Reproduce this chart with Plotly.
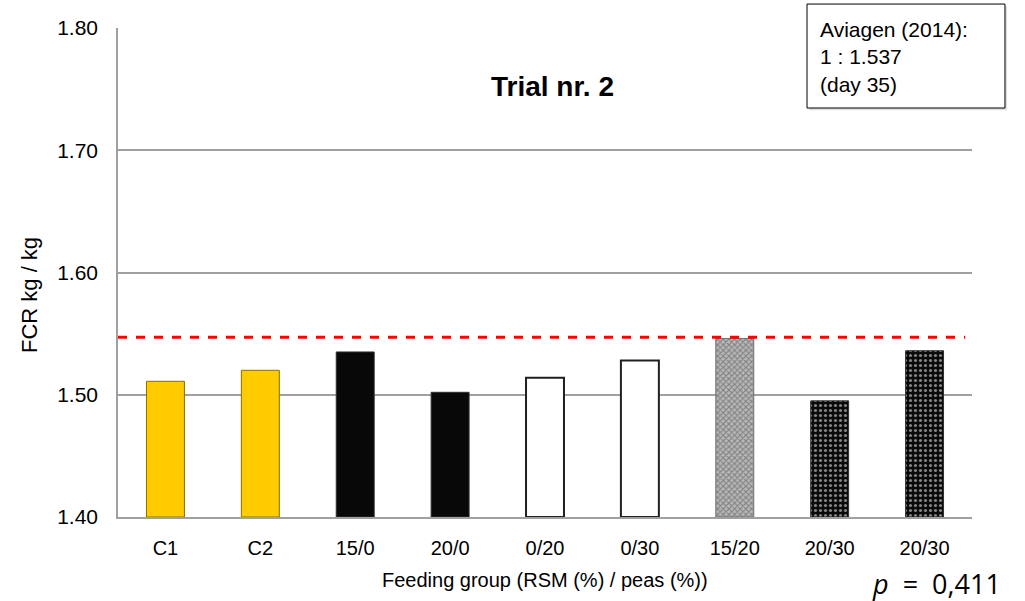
import plotly.graph_objects as go

groups = ["C1", "C2", "15/0", "20/0", "0/20", "0/30", "15/20", "20/30", "20/30"]
fcr = [1.511, 1.520, 1.535, 1.502, 1.514, 1.528, 1.546, 1.495, 1.536]
reference_fcr = 1.547
y_ticks = [1.40, 1.50, 1.60, 1.70, 1.80]

positions = list(range(len(groups)))

fills = ["#FFCC00", "#FFCC00", "#080808", "#080808", "#FFFFFF", "#FFFFFF",
         "#B8B8B8", "#0A0A0A", "#0A0A0A"]
borders = ["#8a6d00", "#8a6d00", "#303030", "#303030", "#202020", "#202020",
           "#707070", "#303030", "#303030"]
border_w = [1, 1, 1, 1, 2, 2, 1, 1, 1]
pat_shapes = ["", "", "", "", "", "", "x", ".", "."]
pat_fg = ["#000000", "#000000", "#000000", "#000000", "#000000", "#000000",
          "#303030", "#A8A8A8", "#A8A8A8"]
pat_size = [6, 6, 6, 6, 6, 6, 4, 5, 5]
pat_sol = [0.3, 0.3, 0.3, 0.3, 0.3, 0.3, 0.45, 0.3, 0.3]

fig = go.Figure()
fig.add_trace(go.Bar(
    x=positions, y=[v - 1.40 for v in fcr], base=1.40,
    width=0.4,
    marker=dict(
        color=fills,
        line=dict(color=borders, width=border_w),
        pattern=dict(shape=pat_shapes, fgcolor=pat_fg, size=pat_size,
                     solidity=pat_sol, fillmode="overlay"),
    ),
    showlegend=False,
    hoverinfo="skip",
))

fig.add_shape(type="line", xref="paper", yref="y", x0=0, x1=0.992,
              y0=reference_fcr, y1=reference_fcr,
              line=dict(color="#FF0000", width=3, dash="dash"))

# reference box (shadow + frame)
fig.add_shape(type="rect", xref="paper", yref="paper",
              x0=0.8093, x1=1.0411, y0=0.832, y1=1.045,
              fillcolor="#E0E0E0", line=dict(width=0), layer="above")
fig.add_shape(type="rect", xref="paper", yref="paper",
              x0=0.8068, x1=1.0386, y0=0.8364, y1=1.049,
              fillcolor="#FFFFFF", line=dict(color="#000000", width=1), layer="above")

fig.add_annotation(xref="paper", yref="paper", x=0.8197, y=1.024, xanchor="left", yanchor="top",
                   text="Aviagen (2014):<br>1 : 1.537<br>(day 35)", align="left",
                   showarrow=False,
                   font=dict(family="Liberation Sans, Arial", size=21, color="#000"))

fig.add_annotation(xref="paper", yref="paper", x=0.509, y=0.881, xanchor="center", yanchor="middle",
                   text="<b>Trial nr. 2</b>", showarrow=False,
                   font=dict(family="Liberation Sans, Arial", size=28, color="#000"))

fig.add_annotation(xref="paper", yref="paper", x=0.959, y=-0.135, xanchor="center", yanchor="middle",
                   text="<i>p</i>&nbsp; =&nbsp; 0,411", showarrow=False,
                   font=dict(family="Open Sans, Noto Sans", size=27, color="#000"))

fig.add_annotation(xref="paper", yref="paper", x=0.5, y=-0.129, xanchor="center", yanchor="middle",
                   text="Feeding group (RSM (%) / peas (%))", showarrow=False,
                   font=dict(family="Liberation Sans, Arial", size=20, color="#000"))

fig.add_annotation(xref="paper", yref="paper", x=-0.103, y=0.454, xanchor="center", yanchor="middle",
                   text="FCR kg / kg", textangle=-90, showarrow=False,
                   font=dict(family="Liberation Sans, Arial", size=22, color="#000"))

fig.update_layout(
    width=1025, height=601,
    margin=dict(l=118, r=53, t=28, b=84),
    paper_bgcolor="#FFFFFF", plot_bgcolor="#FFFFFF",
    font=dict(family="Liberation Sans, Arial", color="#000"),
    xaxis=dict(
        tickmode="array", tickvals=positions, ticktext=groups,
        range=[-0.5, len(groups) - 0.5],
        showgrid=False, showline=True, linecolor="#A0A0A0", linewidth=1.5,
        ticks="", tickfont=dict(size=20), ticklabelstandoff=12,
    ),
    yaxis=dict(
        range=[1.40, 1.80], tickmode="array", tickvals=y_ticks,
        ticktext=[f"{v:.2f}" for v in y_ticks],
        showgrid=True, gridcolor="#A0A0A0", gridwidth=1.5,
        showline=True, linecolor="#A0A0A0", linewidth=1.5,
        ticks="", tickfont=dict(size=21), ticklabelstandoff=14,
        zeroline=False,
    ),
    bargap=0.6,
)

fig.write_html("out.html", config={"displayModeBar": False},
               post_script="document.body.style.margin='0px';document.body.style.overflow='hidden';")
